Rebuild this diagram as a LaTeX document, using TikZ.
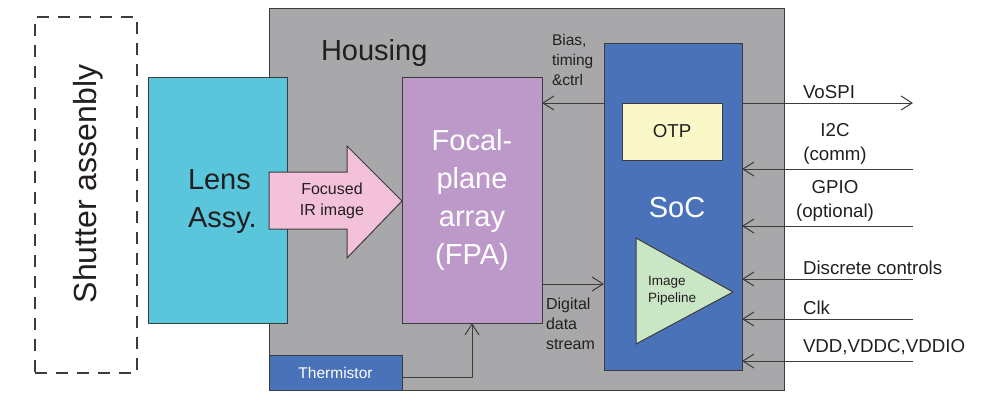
\documentclass[tikz,border=0pt]{standalone}
\usepackage{fontspec}
\setmainfont{Liberation Sans}
\usetikzlibrary{arrows.meta}

\definecolor{housinggray}{HTML}{A8A8AA}
\definecolor{lenscyan}{HTML}{5AC6DB}
\definecolor{pinkarrow}{HTML}{F4C1DB}
\definecolor{fpalilac}{HTML}{BC99C9}
\definecolor{socblue}{HTML}{4A72B8}
\definecolor{otpyellow}{HTML}{FAF8C9}
\definecolor{pipegreen}{HTML}{C9E6C5}
\definecolor{linedark}{HTML}{3C3C3C}
\definecolor{textdark}{HTML}{231F20}

\begin{document}
\begin{tikzpicture}[x=1pt,y=-1pt,
                every path/.style={>={Straight Barb[length=11pt,width=14pt]}},
                every node/.style={text=textdark,inner sep=0pt,outer sep=0pt},
                box/.style={draw=linedark,line width=1pt,rectangle,anchor=north west},
                wire/.style={draw=linedark,line width=1pt},
                siglabel/.style={font=\fontsize{18.7}{24}\selectfont}]
  \useasboundingbox (0,0) rectangle (999,392);
  % blocks
  \node[box,fill=housinggray,minimum width=515pt,minimum height=382pt] (housing) at (269,8) {};
  \node[box,dashed,dash pattern=on 12pt off 9pt,line width=2pt,minimum width=102pt,minimum height=356pt] (shutter) at (35,17) {};
  \node[box,fill=lenscyan,minimum width=139pt,minimum height=246pt] (lens) at (148,77) {};
  \draw[wire,fill=pinkarrow] (269,172) -- (347,172) -- (347,146) -- (402,201) -- (347,258) -- (347,229) -- (269,229) -- cycle;
  \node[box,fill=fpalilac,minimum width=140pt,minimum height=246pt,text=white,
        font=\fontsize{29}{38}\selectfont,align=center] (fpa) at (402,77) {Focal-\\plane\\array\\(FPA)};
  \node[box,fill=socblue,minimum width=138pt,minimum height=327pt] (soc) at (604,43) {};
  \node[box,fill=otpyellow,minimum width=100pt,minimum height=57pt,font=\fontsize{18.7}{22}\selectfont] (otp) at (622,103) {OTP};
  \draw[wire,fill=pipegreen] (636,238) -- (733,292) -- (636,344) -- cycle;
  \node[box,fill=socblue,minimum width=133pt,minimum height=35pt,text=white,
        font=\fontsize{15.5}{18}\selectfont] (therm) at (269,355) {Thermistor};
  % texts
  \node[rotate=90,anchor=base,font=\fontsize{32}{38}\selectfont] (shutterlabel) at (96,184) {Shutter assenbly};
  \node[anchor=north west,align=left,font=\fontsize{29}{38}\selectfont] (lenslabel) at (188,170) {Lens\\Assy.};
  \node[anchor=base west,font=\fontsize{29}{35}\selectfont] (housinglabel) at (321,60) {Housing};
  \node[align=center,font=\fontsize{16}{21}\selectfont] (focuslabel) at (332,201) {Focused\\IR image};
  \node[text=white,font=\fontsize{29}{35}\selectfont] (soclabel) at (677,208) {SoC};
  \node[anchor=north west,align=left,font=\fontsize{13.5}{17}\selectfont] (pipelabel) at (648,276) {Image\\Pipeline};
  \node[anchor=north west,align=left,font=\fontsize{15.5}{20}\selectfont] (biaslabel) at (552,34) {Bias,\\timing\\\&ctrl};
  \node[anchor=north west,align=left,font=\fontsize{16}{20}\selectfont] (digitallabel) at (546,298) {Digital\\data\\stream};
  \node[siglabel,anchor=west] (vospilabel) at (803,92) {VoSPI};
  \node[siglabel,align=center] (i2clabel) at (835,144) {I2C\\(comm)};
  \node[siglabel,align=center] (gpiolabel) at (835,201) {GPIO\\(optional)};
  \node[siglabel,anchor=west] (discretelabel) at (803,268) {Discrete controls};
  \node[siglabel,anchor=west] (clklabel) at (803,308) {Clk};
  \node[siglabel,anchor=west] (vddlabel) at (803,347) {VDD,VDDC,VDDIO};
  % connectors
  \coordinate (digital) at (572,284);
  \coordinate (vospi) at (913,103);
  \coordinate (i2c) at (913,169);
  \coordinate (gpio) at (913,226);
  \coordinate (discrete) at (913,279);
  \coordinate (clk) at (913,319);
  \coordinate (vdd) at (913,361);
  \draw[wire,->] (soc.west |- otp.north) -- (fpa.east |- otp.north);
  \draw[wire,->] (fpa.east |- digital) -- (soc.west |- digital);
  \draw[wire,->] ([yshift=-5pt]therm.east) -| (fpa.south);
  \draw[wire,->] (soc.east |- vospi) -- (vospi);
  \draw[wire,->] (i2c) -- (soc.east |- i2c);
  \draw[wire,->] (gpio) -- (soc.east |- gpio);
  \draw[wire,->] (discrete) -- (soc.east |- discrete);
  \draw[wire,->] (clk) -- (soc.east |- clk);
  \draw[wire,->] (vdd) -- (soc.east |- vdd);
\end{tikzpicture}
\end{document}
